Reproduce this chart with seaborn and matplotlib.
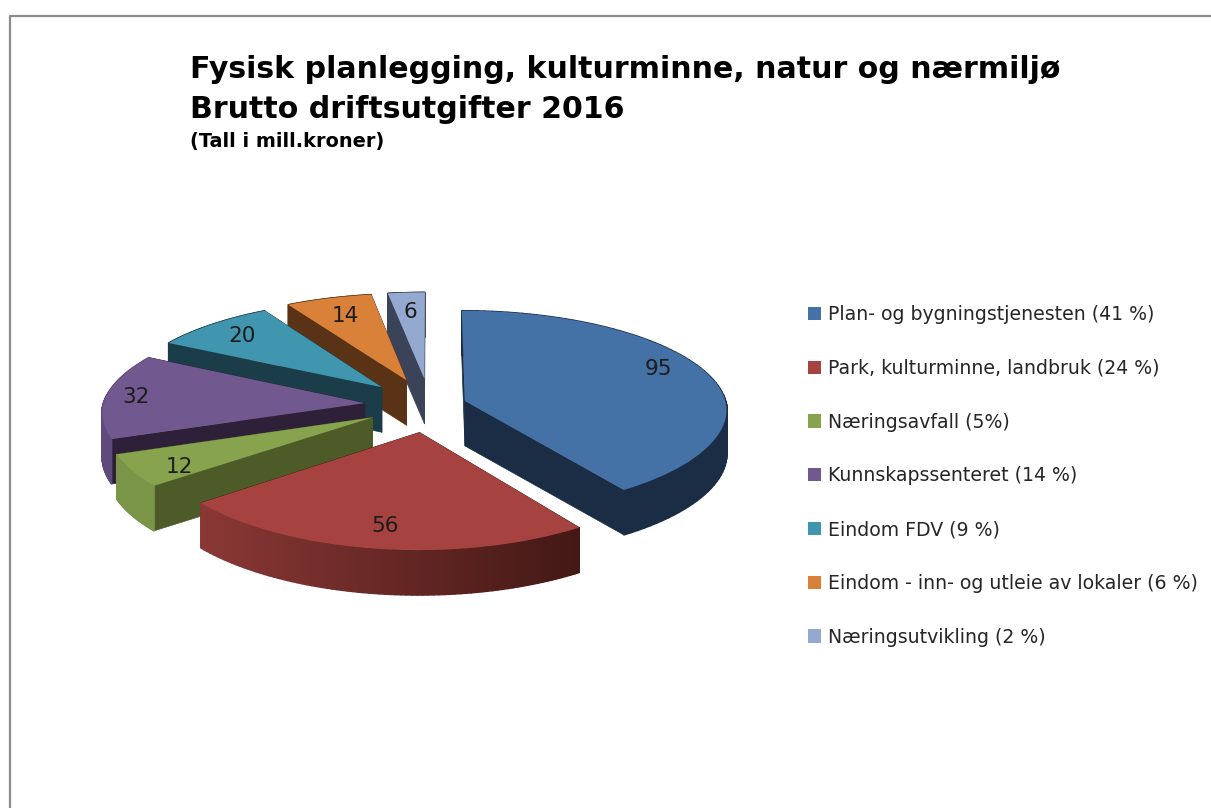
import numpy as np
import matplotlib
matplotlib.use("Agg")
import matplotlib.pyplot as plt
import seaborn as sns
from matplotlib.collections import PolyCollection
from matplotlib.colors import to_rgb
from matplotlib.lines import Line2D
from matplotlib.patches import Patch
from matplotlib.transforms import Transform

legend_labels = ["Plan- og bygningstjenesten (41 %)", "Park, kulturminne, landbruk (24 %)",
                 "Næringsavfall (5%)", "Kunnskapssenteret (14 %)", "Eindom FDV (9 %)",
                 "Eindom - inn- og utleie av lokaler (6 %)", "Næringsutvikling (2 %)"]
values = [95, 56, 12, 32, 20, 14, 6]
explode = [0.14, 0.27, 0.25, 0.25, 0.26, 0.27, 0.27]
colors = ["#4471a6", "#a64340", "#87a34d", "#71588f", "#4096ae", "#da8139", "#93a9cf"]
cut_colors = ["#1a2d45", "#431815", "#4d5b29", "#2d2038", "#1a3d49", "#5a3316", "#3a4358"]
rim_left = ["#1a2d45", "#8a3835", "#7b9548", "#5f4a7c", "#1a3d49", "#5a3316", "#3a4358"]
rim_right = ["#1a2d45", "#431815", "#7b9548", "#5f4a7c", "#1a3d49", "#5a3316", "#3a4358"]
draw_order = [6, 5, 4, 3, 2, 1, 0]
label_radius = [0.84, 0.82, 0.84, 0.885, 0.81, 0.77, 0.76]
label_turn = [6, 0, 4, 0, 0, 0, 0]

title_lines = ["Fysisk planlegging, kulturminne, natur og nærmiljø", "Brutto driftsutgifter 2016"]
subtitle = "(Tall i mill.kroner)"

CX, CY, RX, RY, PERSP, PERSP_FRONT, DEPTH = 430.0, 405.0, 262.0, 100.0, 0.10, 0.07, 45.0


def project(x, y):
    y = np.asarray(y, dtype=float)
    wx = 1.0 + np.where(y > 0, PERSP, PERSP_FRONT) * y
    wy = 1.0 + PERSP * y
    return CX + RX * np.asarray(x, dtype=float) / wx, CY - RY * y / wy


class Tilt(Transform):
    input_dims = 2
    output_dims = 2
    is_separable = False

    def transform_non_affine(self, values):
        v = np.asarray(values, dtype=float)
        px, py = project(v[:, 0], v[:, 1])
        return np.column_stack([px, py])


sns.set_theme(style="white")
plt.rcParams["font.family"] = ["DejaVu Sans"]
fig, ax = plt.subplots(figsize=(12.11, 8.08), dpi=100)
fig.patch.set_facecolor("white")
palette = sns.color_palette(colors)
wedges, _ = ax.pie(values, explode=explode, colors=palette, startangle=90,
                   counterclock=False, radius=1.0, wedgeprops={"linewidth": 0})
ax.set_aspect("auto")
ax.set_position([0, 0, 1, 1])
ax.set_xlim(0, 1211)
ax.set_ylim(808, 0)
tilt = Tilt()

for layer, i in enumerate(draw_order):
    w = wedges[i]
    cx0, cy0 = w.center
    t1, t2 = w.theta1, w.theta2
    ang = np.radians(np.linspace(t1, t2, 80))
    rx_u, ry_u = cx0 + np.cos(ang), cy0 + np.sin(ang)
    px, py = project(rx_u, ry_u)
    apx, apy = project(cx0, cy0)
    apx, apy = float(apx), float(apy)
    cuts = [[(apx, apy), (px[0], py[0]), (px[0], py[0] + DEPTH), (apx, apy + DEPTH)],
            [(apx, apy), (px[-1], py[-1]), (px[-1], py[-1] + DEPTH), (apx, apy + DEPTH)]]
    base = layer * 3 + 1
    ax.add_collection(PolyCollection(cuts, facecolors=cut_colors[i], edgecolors=cut_colors[i],
                                     linewidths=0.5, zorder=base))
    quads, shades = [], []
    c0, c1 = np.array(to_rgb(rim_left[i])), np.array(to_rgb(rim_right[i]))
    xmin, xmax = px.min(), px.max()
    for k in range(len(px) - 1):
        quads.append([(px[k], py[k]), (px[k + 1], py[k + 1]),
                      (px[k + 1], py[k + 1] + DEPTH), (px[k], py[k] + DEPTH)])
        f = ((px[k] + px[k + 1]) / 2 - xmin) / max(xmax - xmin, 1)
        shades.append(tuple(c0 + (c1 - c0) * f))
    ax.add_collection(PolyCollection(quads, facecolors=shades, edgecolors=shades,
                                     linewidths=1.0, zorder=base + 1))
    w.set_transform(tilt + ax.transData)
    w.set_zorder(base + 2)
    mid = np.radians((t1 + t2) / 2 + label_turn[i])
    lx, ly = project(cx0 + label_radius[i] * np.cos(mid), cy0 + label_radius[i] * np.sin(mid))
    ax.text(float(lx), float(ly), str(values[i]), ha="center", va="center", fontsize=15.5,
            family="DejaVu Sans", color="#1c1c1c", zorder=60)

handles = [Patch(facecolor=c, edgecolor="none") for c in palette]
leg = ax.legend(handles, legend_labels, loc="upper left", bbox_to_anchor=(808, 305),
                bbox_transform=ax.transData, frameon=False, prop={"family": "DejaVu Sans", "size": 13.6},
                handlelength=0.7, handleheight=0.7, handletextpad=0.37, borderpad=0,
                borderaxespad=0, labelspacing=1.84, labelcolor="#262626")

fig.text(190 / 1211, 1 - 69 / 808, title_lines[0], fontsize=21.6, fontweight="bold",
         family="DejaVu Sans", color="black", va="center", ha="left")
fig.text(190 / 1211, 1 - 109 / 808, title_lines[1], fontsize=21.6, fontweight="bold",
         family="DejaVu Sans", color="black", va="center", ha="left")
fig.text(190 / 1211, 1 - 142 / 808, subtitle, fontsize=13.9, fontweight="bold",
         family="DejaVu Sans", color="black", va="center", ha="left")

fig.add_artist(Line2D([10 / 1211, 10 / 1211, 1.0], [0, 1 - 16 / 808, 1 - 16 / 808],
                      color="#8c8c8c", linewidth=1.6))
fig.savefig("out.png", dpi=100)
